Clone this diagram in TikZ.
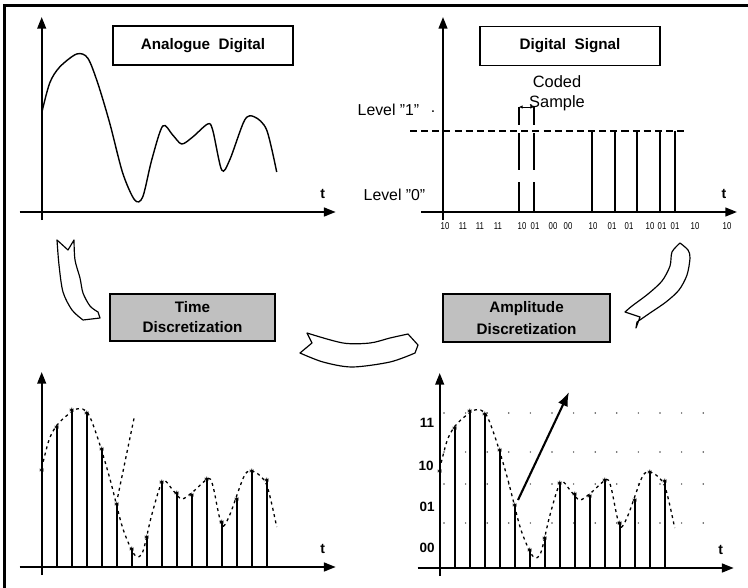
\documentclass[tikz,border=0pt]{standalone}
\usepackage{fontspec}
\setmainfont{Liberation Sans}
\newfontfamily\narrowsans[FakeStretch=0.78]{Liberation Sans}
\usetikzlibrary{arrows.meta,plotmarks}

\definecolor{boxgrey}{RGB}{192,192,192}

\tikzset{
	axis/.style={line width=1.6pt,-{Triangle[length=10pt,width=7.5pt]}},
	titlebox/.style={draw,line width=1pt,minimum width=5.4cm,minimum height=1.17cm,
		font=\fontsize{13}{15}\selectfont\bfseries},
	stepbox/.style={draw,line width=1pt,fill=boxgrey,align=center,
		font=\fontsize{13}{15}\selectfont\bfseries},
	stem/.style={line width=1.5pt},
	wave/.style={line width=1.2pt},
	dashwave/.style={line width=1.1pt,dash pattern=on 2.5pt off 3pt},
	level/.style={line width=1.3pt,dash pattern=on 6pt off 3.5pt},
	ribbon/.style={line width=1pt,line join=round},
	lvl/.style={font=\fontsize{13.5}{16}\selectfont},
	bits/.style={font=\narrowsans\fontsize{8.5}{9}\selectfont},
	code/.style={font=\fontsize{11.5}{13}\selectfont\bfseries},
	tlabel/.style={font=\fontsize{12}{14}\selectfont\bfseries},
}

% both axes of one panel, origin at (0,0)
\newcommand{\axespair}[1]{%
	\draw[axis] (0,8) -- (0,-195);
	\draw[axis] (-22,0) -- (294,0);
	\node[tlabel] (#1t) at (281,-18) {t};
}
\newcommand{\wave}[1]{%
	\draw[#1] plot[smooth] coordinates {(0,-99) (8,-129) (18,-145) (35,-158)
		(46,-154) (56,-129) (68,-89) (81,-39) (93,-12) (101,-15) (110,-52)
		(121,-86) (131,-77) (140,-68) (151,-75) (166,-88) (171,-82) (180,-42)
		(188,-52) (203,-92) (213,-95) (225,-82) (235,-40)};
}
\newcommand{\sampledwave}{%
	\wave{dashwave}
	\draw[stem] plot[ycomb,mark=asterisk,mark options={line width=0.6pt}]
		coordinates {(0,-97) (15,-140) (30,-157) (45,-154) (60,-118) (75,-63)
		(90,-18) (105,-30) (120,-85) (135,-74) (150,-72) (165,-88) (180,-45)
		(195,-68) (210,-96) (225,-87)};
}
\newcommand{\dq}{\symbol{34}}

\begin{document}
\begin{tikzpicture}[x=0.03cm,y=-0.03cm]
	\useasboundingbox (0,0) rectangle (748,588);
	\draw[line width=2.5pt] (4.5,588) -- (4.5,5.5) -- (748,5.5);

	% analogue
	\begin{scope}[shift={(41.7,212)}]
		\axespair{an}
		\wave{wave}
	\end{scope}
	\node[titlebox] at (203,45.5)(analogue){Analogue\ \ Digital};

	% digital signal
	\begin{scope}[shift={(443,212)}]
		\axespair{dg}
		\draw[level] (-33,-81) -- (243,-81);
		\draw[stem] (149,-81) -- (149,0) (172,-81) -- (172,0) (194,-81) -- (194,0)
			(217,-81) -- (217,0) (232,-81) -- (232,0);
		\draw[stem] (76,-105) -- (76,-87) (76,-79) -- (76,-42) (76,-30) -- (76,0)
			(91,-105) -- (91,-87) (91,-79) -- (91,-42) (91,-30) -- (91,0);
		\draw[line width=0.8pt,{Latex[length=3pt,width=3pt]}-{Latex[length=3pt,width=3pt]}]
			(76,-105) -- (91,-105);
	\end{scope}
	\node[titlebox] at (570,46)(digital){Digital\ \ Signal};
	\node[lvl] at (388.5,110)(lvone){Level \dq1\dq};
	\node[lvl] at (433,112)(lvdot){.};
	\node[lvl] at (394.5,195)(lvzero){Level \dq0\dq};
	\node[lvl,font=\fontsize{14}{17}\selectfont,align=center,inner sep=0pt] at (557,93)(coded)
		{Coded\\Sample};
	\foreach \bx/\bt [count=\bi] in {445/10,463/11,480/11,498/11,522/10,535/01,
		553/00,568/00,593/10,612/01,629/01,650/10,662/01,675/01,695/10,727/10}
		\node[bits] (bit\bi) at (\bx,226) {\bt};

	% middle row
	\node[stepbox,minimum width=4.95cm,minimum height=1.41cm] at (192.5,317.5)(timed)
		{Time\\[2pt]Discretization};
	\node[stepbox,minimum width=5.01cm,minimum height=1.44cm] at (526.5,318)(ampd)
		{Amplitude\\[4pt]Discretization};

	\draw[ribbon] (57,240) -- (68,250) -- (74,240) -- plot[smooth] coordinates
		{(74,240) (75,260) (80,278) (83,293) (90,306) (98,312)} -- (100,318)
		-- plot[smooth] coordinates {(83,320) (72,310) (63,292) (59,265) (57,240)} -- cycle;
	\draw[ribbon] (307,333) -- (312,343) -- (300,353) -- plot[smooth] coordinates
		{(300,353) (323,362) (352,367) (390,362) (415,353)} -- (418,345) -- (408,334)
		-- plot[smooth] coordinates {(408,334) (390,338) (370,343) (343,343) (307,333)} -- cycle;
	\draw[ribbon] (680,243) -- plot[smooth] coordinates {(680,243) (688,250) (690,258)
		(687,275) (679,290) (666,302) (650,313) (637,322)} -- (636,328) -- (640,317)
		-- (625,312) -- plot[smooth] coordinates {(625,312) (632,306) (648,294)
		(662,281) (670,266) (672,252) (680,243)} -- cycle;

	% time discretization
	\begin{scope}[shift={(41.7,567)}]
		\axespair{td}
		\sampledwave
		\draw[dashwave] (76,-70) -- (93,-152);
	\end{scope}

	% amplitude discretization
	\begin{scope}[shift={(439.7,568)}]
		\foreach \gx in {0,...,12}
			\foreach \gy in {-155,-116,-84,-45}
				\fill[black!70] ({4.3+21.6*\gx},\gy) circle (0.7pt);
		\axespair{ad}
		\sampledwave
	\end{scope}
	\node[code] at (427,423)(q11){11};
	\node[code] at (426,466)(q10){10};
	\node[code] at (427,507)(q01){01};
	\node[code] at (427,548)(q00){00};
	\coordinate (qfrom) at (518,500);
	\coordinate (qto) at (569,392);
	\draw[line width=1.8pt,-{Latex[length=12pt,width=9pt]}] (qfrom) -- (qto);
\end{tikzpicture}
\end{document}
